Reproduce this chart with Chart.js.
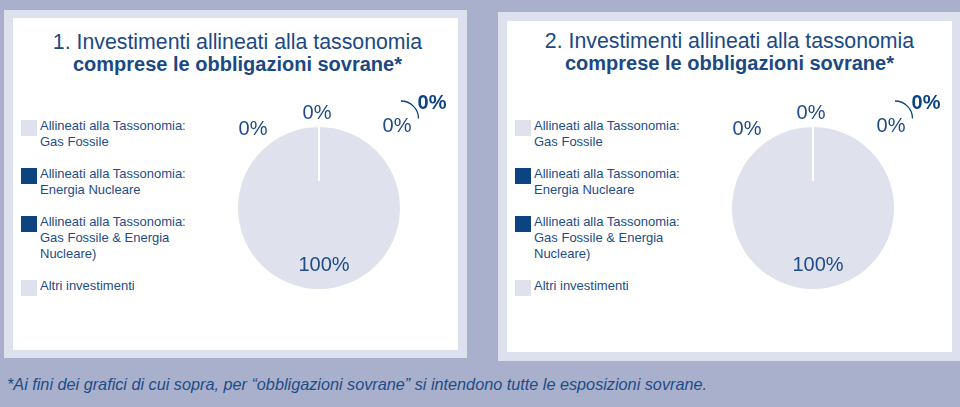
<!DOCTYPE html>
<html lang="it">
<head>
<meta charset="utf-8">
<title>Investimenti allineati alla tassonomia</title>
<script src="https://cdn.jsdelivr.net/npm/chart.js@4.4.1/dist/chart.umd.min.js"></script>
<style>
  html, body { margin: 0; padding: 0; }
  body {
    width: 960px; height: 407px; position: relative; overflow: hidden;
    background: #a9b0cb; color: #1d4c88;
    font-family: "Liberation Sans", Arial, sans-serif;
  }
  .panel { position: absolute; background: #dde0ed; }
  .inner { position: absolute; left: 9px; width: 445px; background: #fff; }
  .title {
    position: absolute; left: 0; right: 0; text-align: center;
    font-size: 21.3px; line-height: 22px; color: #1a4983;
  }
  .title b { font-size: 20px; }
  .legend { position: absolute; left: 8px; }
  .item { position: relative; padding-left: 19px; font-size: 13px; line-height: 16px; margin-bottom: 16px; }
  .swatch { position: absolute; left: 0; top: 2px; width: 16px; height: 16px; }
  canvas { position: absolute; left: 190px; }
  .note {
    position: absolute; left: 7px; top: 375px; white-space: nowrap;
    font-family: "Liberation Sans Narrow", "Liberation Sans", sans-serif;
    font-style: italic; font-size: 17px; line-height: 20px;
    transform-origin: 0 0; color: #1d4c88;
  }
</style>
</head>
<body>

<div class="panel" style="left:4px;top:10px;width:463px;height:348px">
  <div class="inner" style="top:8px;height:332px">
    <div class="title" id="title1" style="top:13px;left:4px"></div>
    <div class="legend" id="legend1" style="top:100px"></div>
    <canvas id="pie1" width="255" height="280" style="top:60px"></canvas>
  </div>
</div>

<div class="panel" style="left:498px;top:12px;width:462px;height:349px">
  <div class="inner" style="top:9px;height:331px">
    <div class="title" id="title2" style="top:9px"></div>
    <div class="legend" id="legend2" style="top:97px"></div>
    <canvas id="pie2" width="255" height="280" style="top:57px"></canvas>
  </div>
</div>

<div class="note" id="note"></div>

<script>
// categories (legend lines) and values of the two pies
const categories = [
  ["Allineati alla Tassonomia:", "Gas Fossile"],
  ["Allineati alla Tassonomia:", "Energia Nucleare"],
  ["Allineati alla Tassonomia:", "Gas Fossile & Energia", "Nucleare)"],
  ["Altri investimenti"]
];
const values1 = [0, 0, 0, 100];
const values2 = [0, 0, 0, 100];
const chartTitles = [
  "1. Investimenti allineati alla tassonomia",
  "2. Investimenti allineati alla tassonomia"
];
const chartSubtitle = "comprese le obbligazioni sovrane*";
const footnote = "*Ai fini dei grafici di cui sopra, per \u201cobbligazioni sovrane\u201d si intendono tutte le esposizioni sovrane.";

const LIGHT = "#dfe1ed";
const DARK = "#0c4380";
const TEXT = "#1d4c88";
const sliceColors = [LIGHT, DARK, DARK, LIGHT];
// where each slice's label sits, relative to the pie centre (text centre, px)
const labelOffsets = [[-66, -80], [-2, -96], [78, -83], [5, 56]];

const pieLabels = {
  id: "pieLabels",
  afterDatasetsDraw(chart) {
    const ctx = chart.ctx;
    const arcs = chart.getDatasetMeta(0).data;
    const vals = chart.data.datasets[0].data;
    const cx = arcs[0].x, cy = arcs[0].y, r = arcs[0].outerRadius;
    ctx.save();

    // white seam where the empty slices are
    const empty = arcs.find((a, i) => vals[i] === 0);
    if (empty) {
      const ang = empty.startAngle;
      ctx.strokeStyle = "#ffffff";
      ctx.lineWidth = 2;
      ctx.beginPath();
      ctx.moveTo(cx + Math.cos(ang) * r, cy + Math.sin(ang) * r);
      ctx.lineTo(cx + Math.cos(ang) * r / 3, cy + Math.sin(ang) * r / 3);
      ctx.stroke();
    }

    ctx.fillStyle = TEXT;
    ctx.textAlign = "center";
    ctx.textBaseline = "alphabetic";
    ctx.font = "20px 'Liberation Sans', Arial, sans-serif";
    vals.forEach((v, i) => {
      const [dx, dy] = labelOffsets[i];
      ctx.fillText(v + "%", cx + dx, cy + dy + 7);
    });

    // bold call-out: total aligned with the taxonomy
    const aligned = vals.slice(0, 3).reduce((s, v) => s + v, 0);
    ctx.fillStyle = DARK;
    ctx.font = "bold 20px 'Liberation Sans', Arial, sans-serif";
    ctx.fillText(aligned + "%", cx + 113, cy - 99.5);
    ctx.strokeStyle = DARK;
    ctx.lineWidth = 1.3;
    ctx.beginPath();
    ctx.arc(cx + 82, cy - 89.5, 17.5, -Math.PI / 2, 0);
    ctx.stroke();

    ctx.restore();
  }
};

function buildLegend(id) {
  const el = document.getElementById(id);
  categories.forEach((lines, i) => {
    const item = document.createElement("div");
    item.className = "item";
    item.innerHTML = '<span class="swatch" style="background:' + sliceColors[i] + '"></span>' +
      lines.join("<br>");
    el.appendChild(item);
  });
}

function drawPie(canvasId, values) {
  new Chart(document.getElementById(canvasId), {
    type: "pie",
    data: {
      labels: categories.map((c) => c.join(" ")),
      datasets: [{ data: values, backgroundColor: sliceColors, borderWidth: 0 }]
    },
    options: {
      responsive: false,
      animation: false,
      devicePixelRatio: 1,
      layout: { padding: { left: 35, right: 58, top: 49, bottom: 69 } },
      plugins: { legend: { display: false }, tooltip: { enabled: false } }
    },
    plugins: [pieLabels]
  });
}

["title1", "title2"].forEach((id, i) => {
  document.getElementById(id).innerHTML = chartTitles[i] + "<br><b>" + chartSubtitle + "</b>";
});
buildLegend("legend1");
buildLegend("legend2");
drawPie("pie1", values1);
drawPie("pie2", values2);

const note = document.getElementById("note");
note.textContent = footnote;
const w = note.getBoundingClientRect().width;
note.style.transform = "scaleX(" + (700 / w) + ")";
</script>
</body>
</html>
